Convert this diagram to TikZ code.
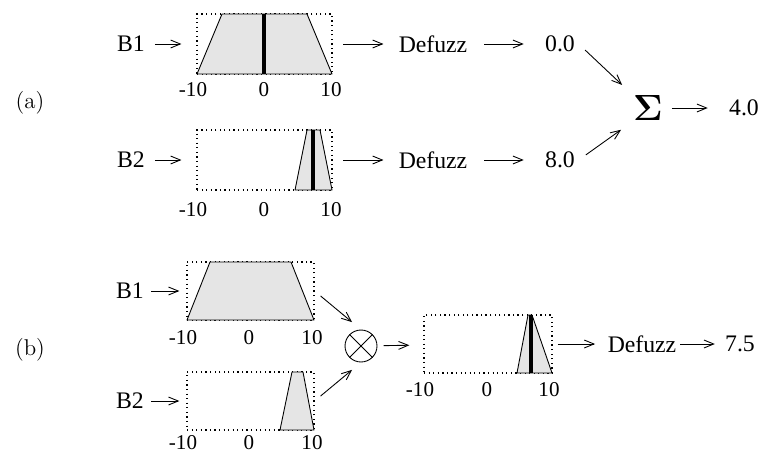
\documentclass[tikz,border=0pt]{standalone}
\usepackage[no-math]{fontspec}
\newfontfamily\tnr{Liberation Serif}
\usetikzlibrary{arrows.meta}

\begin{document}
\begin{tikzpicture}[x=0.02cm,y=-0.02cm,
  txt/.style={font=\tnr\fontsize{13.5}{16}\selectfont,inner sep=2pt},
  tick/.style={font=\tnr\fontsize{12}{14}\selectfont,inner sep=1pt},
  univ/.style={draw,dash pattern=on 0.7pt off 1.9pt,line width=0.7pt,inner sep=0pt},
  arr/.style={-{Straight Barb[length=5.5pt,width=4.5pt]},line width=0.5pt},
  mf/.style={draw,fill=black!10,line width=0.5pt,line join=round},
  crisp/.style={line width=2.2pt}]
\useasboundingbox (0,0) rectangle (760,453);

% (a) defuzzify each rule, then sum
\node[font=\fontsize{13}{15}\selectfont] (pa) at (30,103) {(a)};
\node[txt] (ain1) at (131,44) {B1};
\node[txt] (ain2) at (131,160) {B2};
\node[univ,minimum width=2.7cm,minimum height=1.2cm] (aset1) at (264.5,44) {};
\node[univ,minimum width=2.7cm,minimum height=1.2cm] (aset2) at (264.5,160) {};
\draw[mf] (197,74) -- (222,14) -- (307,14) -- (332,74) -- cycle;
\draw[crisp] (264,14) -- (264,74);
\draw[mf] (295,190) -- (307,130) -- (320,130) -- (332,190) -- cycle;
\draw[crisp] (313,130) -- (313,190);
\node[tick] (at1l) at (193,90) {-10};
\node[tick] (at1m) at (264,90) {0};
\node[tick] (at1r) at (331,90) {10};
\node[tick] (at2l) at (193,210) {-10};
\node[tick] (at2m) at (264,210) {0};
\node[tick] (at2r) at (331,210) {10};
\node[txt] (adf1) at (433,44) {Defuzz};
\node[txt] (adf2) at (433,160) {Defuzz};
\node[txt] (aval1) at (560,44) {0.0};
\node[txt] (aval2) at (560,160) {8.0};
\node[font=\fontsize{21}{24}\selectfont,inner sep=1pt] (sum) at (648,108) {$\mathbf{\Sigma}$};
\node[txt] (atot) at (744,108) {4.0};

\draw[arr,shorten <=3.5pt,shorten >=8.5pt] (ain1) -- (aset1);
\draw[arr,shorten <=3.5pt,shorten >=8.5pt] (ain2) -- (aset2);
\draw[arr,shorten <=6pt,shorten >=6.5pt] (aset1) -- (adf1);
\draw[arr,shorten <=6pt,shorten >=6.5pt] (aset2) -- (adf2);
\draw[arr,shorten <=7.5pt,shorten >=10pt] (adf1) -- (aval1);
\draw[arr,shorten <=7.5pt,shorten >=10pt] (adf2) -- (aval2);
\draw[arr,shorten <=5pt,shorten >=7pt] (aval1.east) -- (sum.north west);
\draw[arr,shorten <=5pt,shorten >=7pt] (aval2.east) -- (sum.south west);
\draw[arr,shorten <=4pt,shorten >=10pt] (sum) -- (atot);

% (b) combine first, defuzzify once
\node[font=\fontsize{13}{15}\selectfont] (pb) at (30,350) {(b)};
\node[txt] (bin1) at (130,291) {B1};
\node[txt] (bin2) at (130,401) {B2};
\node[univ,minimum width=2.54cm,minimum height=1.16cm] (bset1) at (250.5,291) {};
\node[univ,minimum width=2.54cm,minimum height=1.16cm] (bset2) at (250.5,401) {};
\draw[mf] (187,320) -- (210,262) -- (291,262) -- (314,320) -- cycle;
\draw[mf] (280,430) -- (292,372) -- (303,372) -- (314,430) -- cycle;
\node[tick] (bt1l) at (183,338) {-10};
\node[tick] (bt1m) at (249,338) {0};
\node[tick] (bt1r) at (312,338) {10};
\node[tick] (bt2l) at (183,443) {-10};
\node[tick] (bt2m) at (249,443) {0};
\node[tick] (bt2r) at (312,443) {10};
\node[draw,circle,line width=0.5pt,minimum size=0.64cm,inner sep=0pt] (prod) at (361,346) {};
\draw[line width=0.5pt] (prod.north west) -- (prod.south east) (prod.south west) -- (prod.north east);
\node[univ,minimum width=2.56cm,minimum height=1.16cm] (bres) at (488,344) {};
\draw[mf] (517,373) -- (528,315) -- (532,315) -- (552,373) -- cycle;
\draw[crisp] (531,315) -- (531,373);
\node[tick] (brl) at (420,390) {-10};
\node[tick] (brm) at (487,390) {0};
\node[tick] (brr) at (549,390) {10};
\node[txt] (bdf) at (642,344) {Defuzz};
\node[txt] (bval) at (740,344) {7.5};

\draw[arr,shorten <=2pt,shorten >=4pt] (bin1) -- (bset1);
\draw[arr,shorten <=2pt,shorten >=4pt] (bin2) -- (bset2);
\draw[arr,shorten <=4.4pt,shorten >=6.6pt] (bset1.east) -- (prod.north);
\draw[arr,shorten <=4.4pt,shorten >=6.6pt] (bset2.east) -- (prod.south);
\draw[arr,shorten <=3.5pt,shorten >=8pt] (prod) -- (bres);
\draw[arr,shorten <=3pt,shorten >=5pt] (bres) -- (bdf);
\draw[arr,shorten >=3.7pt] (bdf) -- (bval);
\end{tikzpicture}
\end{document}
